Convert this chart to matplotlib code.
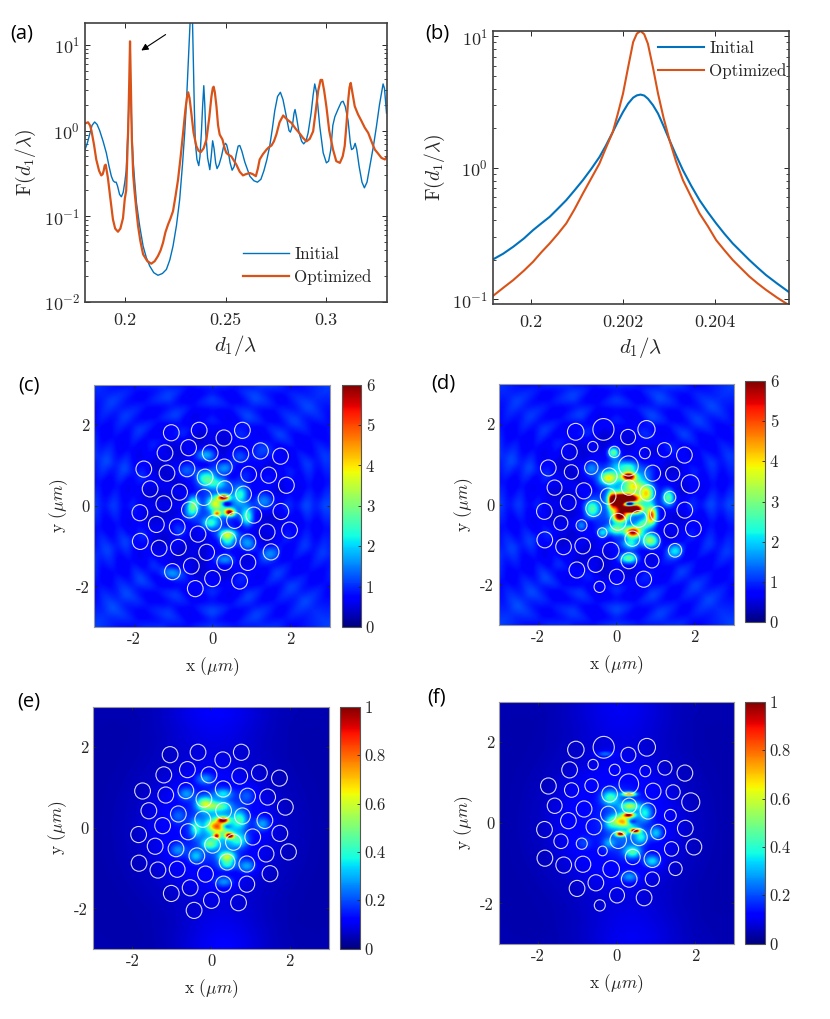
import numpy as np
import matplotlib
matplotlib.use('Agg')
import matplotlib.pyplot as plt
from matplotlib.patches import Circle

# Curve (a)
a_init_x = [.1800,.1812,.1823,.1835,.1848,.1860,.1873,.1890,.1906,.1920,.1931,.1940,.1948,.1955,.1962,.1972,.1981,.1990,.1998,.2005,.2015,.2020,.2024,.2028,.2033,.2040,.2047,.2056,.2072,.2089,.2105,.2122,.2142,.2163,.2185,.2205,.2222,.2238,.2255,.2271,.2285,.2296,.2305,.2313,.2322,.2327,.2333,.2338,.2344,.2349,.2357,.2366,.2372,.2379,.2385,.2391,.2396,.2401,.2410,.2421,.2428,.2435,.2442,.2450,.2457,.2467,.2479,.2490,.2499,.2505,.2512,.2522,.2532,.2542,.2552,.2562,.2570,.2580,.2595,.2620,.2640,.2658,.2675,.2690,.2705,.2719,.2732,.2744,.2758,.2772,.2785,.2802,.2815,.2822,.2832,.2840,.2845,.2852,.2865,.2878,.2888,.2900,.2910,.2925,.2935,.2943,.2952,.2968,.2985,.3001,.3012,.3023,.3033,.3043,.3060,.3075,.3084,.3095,.3109,.3120,.3126,.3135,.3144,.3152,.3164,.3178,.3190,.3203,.3217,.3235,.3250,.3265,.3283,.3290,.3300]
a_init_y = [.60,.72,.90,1.15,1.26,1.18,1.0,.75,.55,.38,.294,.26,.25,.25,.225,.18,.169,.19,.25,.34,1.2,2.66,3.6,2.6,.96,.43,.26,.144,.077,.045,.033,.0263,.022,.0205,.0215,.024,.031,.045,.078,.157,.40,.94,2.2,5.6,16,30,30,8,1.8,.72,.46,.39,.5,.94,1.9,3.34,2.0,.94,.48,.35,.5,.76,.62,.42,.36,.40,.50,.66,.71,.68,.58,.42,.345,.38,.52,.66,.67,.58,.43,.294,.26,.25,.27,.34,.46,.66,1.05,1.7,2.5,2.8,2.3,1.45,1.0,.96,1.15,1.6,1.76,1.45,.94,.75,.70,.76,.94,1.6,2.6,3.5,2.8,1.12,.55,.42,.44,.60,1.15,1.45,1.8,2.15,2.2,1.9,1.3,.72,.60,.62,.71,.6,.38,.25,.215,.25,.38,.66,1.12,2.0,3.5,3.1,1.6]
a_opt_x = [.1800,.1815,.1825,.1832,.1845,.1856,.1870,.1881,.1888,.1893,.1898,.1903,.1908,.1914,.1925,.1939,.1950,.1964,.1976,.1989,.1998,.2005,.2015,.2020,.2024,.2028,.2033,.2040,.2047,.2056,.2064,.2075,.2089,.2110,.2130,.2147,.2163,.2176,.2188,.2200,.2213,.2225,.2238,.2250,.2263,.2276,.2288,.2300,.2308,.2313,.2320,.2329,.2340,.2354,.2365,.2376,.2390,.2404,.2418,.2429,.2436,.2440,.2446,.2454,.2462,.2470,.2484,.2495,.2503,.2515,.2528,.2540,.2553,.2570,.2586,.2600,.2620,.2635,.2650,.2660,.2669,.2685,.2703,.2715,.2728,.2740,.2752,.2768,.2786,.2805,.2827,.2848,.2869,.2885,.2902,.2918,.2935,.2948,.2960,.2972,.2980,.2990,.3001,.3015,.3034,.3050,.3068,.3082,.3092,.3101,.3109,.3116,.3122,.3130,.3142,.3158,.3175,.3192,.3209,.3225,.3242,.3258,.3275,.3292,.3300]
a_opt_y = [1.21,1.25,1.15,1.0,.68,.46,.34,.30,.31,.34,.39,.40,.34,.28,.17,.092,.072,.066,.072,.095,.16,.20,1.08,3.67,11,3.67,.806,.30,.19,.115,.077,.052,.036,.030,.028,.030,.0344,.040,.049,.065,.080,.094,.115,.17,.269,.50,.94,1.8,2.5,2.8,2.4,1.6,.95,.66,.58,.56,.62,.785,1.4,2.5,3.15,3.25,2.8,1.92,1.15,.90,.785,.62,.55,.52,.50,.45,.40,.33,.30,.31,.32,.31,.294,.36,.46,.53,.60,.64,.67,.75,.90,1.25,1.5,1.35,1.23,1.05,.92,.82,.75,.80,.98,1.7,2.9,3.9,3.9,2.9,1.9,1.0,.60,.44,.42,.50,.66,1.2,2.2,3.2,3.6,2.8,1.92,1.55,1.3,1.08,.94,.75,.60,.54,.48,.46,.49]

# Curve (b)
b_x = [.19918,.1994,.19962,.19985,.20005,.20023,.20041,.20059,.20077,.20095,.20113,.20131,.20149,.20163,.20178,.20189,.20200,.20211,.20222,.2023,.20238,.20246,.20254,.20265,.20276,.20288,.20301,.20315,.20330,.20348,.20366,.20384,.20402,.2042,.20438,.20456,.20474,.20492,.20510,.20534,.20559]
b_init_y = [.201,.222,.251,.29,.336,.378,.424,.49,.568,.675,.806,.98,1.21,1.48,1.88,2.25,2.66,3.08,3.42,3.56,3.61,3.55,3.36,3.0,2.59,2.08,1.62,1.25,.96,.73,.568,.46,.378,.315,.266,.23,.199,.174,.153,.132,.114]
b_opt_y = [.106,.122,.140,.165,.193,.228,.266,.315,.378,.485,.638,.83,1.08,1.42,1.88,2.6,3.67,5.8,9.06,10.5,11,10.4,8.8,5.8,3.67,2.4,1.62,1.12,.806,.60,.45,.36,.282,.236,.199,.172,.149,.132,.118,.103,.0906]

# Hole centres in um, same for all four maps
hole_x = [-1.04,-.33,.77,.30,-.60,-1.20,-.05,.73,1.23,1.74,-1.74,-1.15,-.64,.31,-.18,.93,1.44,1.89,-1.58,-.83,.32,.80,1.37,-.21,-1.23,-.58,-1.84,1.75,1.06,.57,.04,-1.42,-.89,1.97,1.40,-.36,-1.83,.41,.91,-1.35,-.86,-.14,1.50,.32,.91,-.53,-1.01,.01,.70,-.43]
hole_y = [1.81,1.87,1.87,1.68,1.44,1.31,1.31,1.28,1.36,1.23,.91,.81,.92,.96,.71,.78,.76,.51,.42,.34,.42,.29,.18,.21,.05,-.10,-.17,-.14,-.23,-.36,-.43,-.46,-.52,-.60,-.65,-.70,-.88,-.85,-.90,-1.05,-1.03,-1.15,-1.14,-1.40,-1.40,-1.49,-1.63,-1.80,-1.86,-2.05]
hole_r_init = [.20] * 50
hole_r_opt = [.21,.27,.22,.19,.13,.20,.14,.14,.18,.20,.20,.18,.17,.25,.20,.20,.18,.23,.19,.20,.19,.20,.15,.20,.20,.20,.20,.20,.19,.21,.21,.18,.14,.20,.18,.12,.20,.19,.21,.20,.20,.21,.17,.20,.18,.20,.20,.19,.20,.14]

# Bright spots of the maps: x, y, level, width in x, width in y
spots_c = [(.30,.20,5.0,.10,.05),(.45,-.17,5.0,.09,.06),(.13,-.20,3.2,.07,.05),(.08,.05,2.2,.13,.12),(.30,-.01,.8,.12,.08),
           (.2,.0,.6,.35,.40),(-.15,.68,1.9,.17,.14),(.15,.55,1.2,.20,.10),(.40,-.72,2.9,.15,.09),(.40,-.92,1.3,.14,.10),
           (.90,-.27,1.9,.11,.17),(-.47,.02,1.9,.10,.14),(-.05,-.43,1.5,.15,.10),(.72,.27,1.6,.13,.17),(-.17,1.25,1.3,.17,.11),
           (.32,-1.34,1.1,.17,.10),(.90,-.93,1.1,.16,.14),(1.49,-1.18,.8,.17,.13),(1.32,.12,1.0,.17,.15),(-.64,.88,.8,.15,.13),
           (-.55,-.15,1.0,.13,.15),(-1.02,-1.67,.9,.17,.11),(.30,.93,1.0,.17,.11),(.73,1.2,.7,.15,.13),(-.85,-.6,.6,.14,.13),
           (.9,.7,.4,.16,.16),(1.4,.7,.3,.16,.16),(1.2,1.3,.4,.16,.16),(.5,-.1,.3,.3,.2),(.36,.03,-1.8,.09,.05)]
spots_d = [(.26,.14,8,.20,.08),(.39,-.11,8,.18,.07),(.09,-.30,5,.12,.09),(.05,.06,4,.11,.15),(.31,.70,5.5,.13,.07),
           (.43,-.69,5,.13,.09),(.90,-.27,4.2,.09,.15),(-.12,.10,3.5,.07,.16),(-.20,.66,3.0,.16,.11),(-.08,1.30,2.2,.10,.09),
           (.31,-1.34,2.3,.15,.09),(.86,-.90,2.6,.15,.12),(1.33,.18,2.2,.11,.14),(-.63,-.11,2.0,.13,.15),(.78,.27,2.8,.12,.15),
           (-.37,-.71,1.2,.09,.08),(-.90,-.53,1.0,.09,.09),(1.50,-1.15,1.4,.14,.12),(.44,.45,2.6,.18,.12),(.0,-.62,1.9,.17,.09),
           (.31,.92,1.4,.16,.10),(-.64,.9,1.0,.13,.13),(.70,-.5,1.8,.12,.10),(.25,0,.9,.5,.6),(.0,.95,.9,.20,.15),(.7,.75,.6,.2,.2),(.35,-.98,1.5,.15,.1),
           (.33,.02,-6,.09,.045)]
spots_e = [(.30,.20,.72,.10,.05),(.46,-.19,.8,.08,.05),(.13,-.20,.6,.06,.05),(.11,.05,.42,.15,.10),(.30,.0,.2,.13,.08),
           (.2,0,.2,.35,.45),(-.17,.60,.38,.15,.12),(.18,.55,.25,.2,.08),(.40,-.72,.42,.14,.09),(.70,-.30,.22,.16,.13),(-.40,.0,.22,.10,.15),
           (-.05,-.40,.25,.13,.09),(.72,.20,.25,.13,.15),(-.17,1.22,.16,.16,.10),(.40,-.92,.22,.14,.08),(.32,-1.34,.16,.16,.09),
           (.90,-.95,.18,.15,.11),(1.30,.10,.18,.14,.12),(-.64,.85,.16,.14,.11),(-.4,-.7,.18,.12,.11),(.30,.85,.2,.16,.09),
           (-.85,-.55,.15,.14,.11),(-.85,.3,.1,.13,.13),(.9,.8,.1,.14,.14),(.1,3.0,.07,.9,.7),(.3,-3.0,.07,.8,.7),(.36,.03,-.3,.09,.05)]
spots_f = [(.30,.20,.72,.10,.04),(.46,-.19,.9,.09,.04),(.09,-.27,.85,.08,.04),(.11,.05,.4,.15,.10),(.30,.0,.2,.13,.07),
           (.2,0,.13,.3,.45),(.31,.72,.7,.11,.035),(-.17,.63,.28,.15,.12),(.34,.42,.36,.15,.07),(.40,-.72,.3,.14,.10),(.62,-.35,.22,.11,.11),
           (.72,.25,.22,.12,.14),(.90,-.95,.24,.14,.10),(.32,-1.34,.17,.15,.09),(1.0,-.25,.2,.11,.11),(-.17,.0,.16,.11,.11),
           (-.3,1.72,.14,.15,.05),(-.85,-.5,.07,.13,.11),(-.2,-.5,.14,.11,.09),(.1,2.9,.06,.9,.7),(.4,-2.9,.06,.9,.7),(.36,.03,-.3,.09,.05)]

# Background level against distance from the centre
ripple_r = [0,.8,1.4,1.8,2.0,2.25,2.5,2.75,3.0,3.25,3.5,3.75,4.3]
ripple_cd = [.8,.55,.5,.55,.85,.65,1.0,.72,1.0,.78,1.02,.82,.95]
glow_r = [0,.8,1.4,2.0,2.6,3.2,4.3]
glow_ef = [.16,.13,.10,.06,.045,.04,.045]
# lumps of the ripples around the circle, and how much the rings wander
lump_levels = [1.15,.85,1.2,.8,1.25,.85,1.15,.8,1.25,.85,1.2,.85,1.2,.8,1.15,.85,1.25,.85,1.15,.8,1.2,.85,1.25,.85,1.15,.8,1.2,.85,1.15,.8,1.25,.85,1.15]
ring_wander = [0,.12,-.08,.1,-.12,.06,.14,-.06,.1,-.14,.04,.12,-.1,.08,-.12,.1,0]

COLOR_INIT = '#0072BD'
COLOR_OPT = '#D95319'
TEXT = '#262626'

plt.rcParams['font.family'] = 'cmr10'
plt.rcParams['mathtext.fontset'] = 'cm'
plt.rcParams['axes.formatter.use_mathtext'] = True
plt.rcParams['axes.unicode_minus'] = False
plt.rcParams['text.color'] = TEXT
plt.rcParams['axes.labelcolor'] = TEXT
plt.rcParams['xtick.color'] = TEXT
plt.rcParams['ytick.color'] = TEXT
plt.rcParams['xtick.direction'] = 'in'
plt.rcParams['ytick.direction'] = 'in'

W, H = 830, 1019
fig = plt.figure(figsize=(W / 100, H / 100), dpi=100)


def px_axes(left, right, top, bottom):
    return fig.add_axes([left / W, 1 - bottom / H, (right - left) / W, (bottom - top) / H])


def line_panel(ax, x_lim, y_lim, xticks, xticklabels):
    ax.set_yscale('log')
    ax.set_xlim(x_lim)
    ax.set_ylim(y_lim)
    ax.set_xticks(xticks)
    ax.set_xticklabels(xticklabels)
    ax.tick_params(which='both', top=True, right=True, labelsize=13)
    ax.tick_params(axis='x', pad=8)
    ax.tick_params(which='major', length=3.5, width=.7)
    ax.tick_params(which='minor', length=2, width=.6)
    ax.set_xlabel(r'$d_1/\lambda$', fontsize=15, labelpad=3)
    ax.set_ylabel(r'F$(d_1/\lambda)$', fontsize=14)
    for s in ax.spines.values():
        s.set_color('#404040')
        s.set_linewidth(1.2)


# (a)
ax_a = px_axes(85, 386.5, 23, 302)
ax_a.plot(a_init_x, a_init_y, color=COLOR_INIT, lw=1.0, label='Initial')
ax_a.plot(a_opt_x, a_opt_y, color=COLOR_OPT, lw=1.6, label='Optimized')
line_panel(ax_a, (.18, .33), (.01, 18), [.2, .25, .3], ['0.2', '0.25', '0.3'])
ax_a.legend(loc='lower left', bbox_to_anchor=(.525, .06), frameon=False, fontsize=12.2,
            handlelength=2.7, handletextpad=.3, labelspacing=.42, borderaxespad=0, borderpad=0)
ax_a.annotate('', xy=(.179, .896), xytext=(.275, .964), xycoords='axes fraction', textcoords='axes fraction',
              arrowprops=dict(arrowstyle='-|>', color='black', lw=.8, mutation_scale=10))

# (b)
ax_b = px_axes(493, 788.5, 31, 304)
ax_b.plot(b_x, b_init_y, color=COLOR_INIT, lw=1.5, label='Initial')
ax_b.plot(b_x, b_opt_y, color=COLOR_OPT, lw=1.5, label='Optimized')
line_panel(ax_b, (.19918, .20559), (.092, 11), [.2, .202, .204], ['0.2', '0.202', '0.204'])
ax_b.legend(loc='upper left', bbox_to_anchor=(.56, .963), frameon=False, fontsize=12.2,
            handlelength=2.7, handletextpad=.3, labelspacing=.42, borderaxespad=0, borderpad=0)

# maps
grid = np.linspace(-3, 3, 301)
gx, gy = np.meshgrid(grid, grid)
gr = np.hypot(gx, gy)
gt = np.arctan2(gy, gx)
lump_t = np.linspace(-np.pi, np.pi, len(lump_levels))
wander_t = np.linspace(-np.pi, np.pi, len(ring_wander))


def soften(field, n=9):
    box = np.ones(n) / n
    pad = np.pad(field, n, mode='edge')
    pad = np.apply_along_axis(np.convolve, 0, pad, box, mode='same')
    pad = np.apply_along_axis(np.convolve, 1, pad, box, mode='same')
    return pad[n:-n, n:-n]


def build_field(spots, level_r, level_v, use_lumps):
    if use_lumps:
        field = np.interp(gr + np.interp(gt, wander_t, ring_wander), level_r, level_v)
        field = soften(field * np.interp(gt, lump_t, lump_levels))
    else:
        field = np.interp(gr, level_r, level_v)
    for sx, sy, lev, wx, wy in spots:
        field = field + lev * np.exp(-((gx - sx) / wx) ** 2 / 2 - ((gy - sy) / wy) ** 2 / 2)
    return field


def map_panel(box, cbar_box, field, vmax, radii, cticks):
    ax = px_axes(*box)
    im = ax.imshow(field, extent=(-3, 3, -3, 3), origin='lower', cmap='jet', vmin=0, vmax=vmax,
                   interpolation='bilinear', aspect='auto')
    for hx, hy, hr in zip(hole_x, hole_y, radii):
        ax.add_patch(Circle((hx, hy), hr, fill=False, edgecolor='white', lw=.8, alpha=.85))
    ax.set_xlim(-3, 3)
    ax.set_ylim(-3, 3)
    ax.set_xticks([-2, 0, 2])
    ax.set_yticks([-2, 0, 2])
    ax.set_xticklabels(['-2', '0', '2'])
    ax.set_yticklabels(['-2', '0', '2'])
    ax.tick_params(top=True, right=True, length=2.5, width=.6, labelsize=12)
    ax.set_xlabel(r'x ($\mu m$)', fontsize=12.5, labelpad=6)
    ax.set_ylabel(r'y ($\mu m$)', fontsize=12.5)
    for s in ax.spines.values():
        s.set_color('#999999')
    cax = px_axes(*cbar_box)
    cb = fig.colorbar(im, cax=cax)
    cb.set_ticks(cticks)
    cb.set_ticklabels([('%g' % t) for t in cticks])
    cb.ax.tick_params(labelsize=12, length=2.5, width=.6, direction='in')
    cb.outline.set_edgecolor('#555555')
    return ax


map_panel((94.3, 330, 384.7, 627), (342, 361, 384.7, 627), build_field(spots_c, ripple_r, ripple_cd, True), 6,
          hole_r_init, [0, 1, 2, 3, 4, 5, 6])
map_panel((499, 733.7, 384, 625), (745, 765, 381, 622), build_field(spots_d, ripple_r, ripple_cd, True), 6,
          hole_r_opt, [0, 1, 2, 3, 4, 5, 6])
map_panel((93, 329, 706.7, 948.7), (340, 360, 706.7, 948.7), build_field(spots_e, glow_r, glow_ef, False), 1,
          hole_r_init, [0, .2, .4, .6, .8, 1])
map_panel((499, 734.3, 701.7, 943.7), (745, 765, 701.7, 943.7), build_field(spots_f, glow_r, glow_ef, False), 1,
          hole_r_opt, [0, .2, .4, .6, .8, 1])

# panel letters
panel_labels = ['(a)', '(b)', '(c)', '(d)', '(e)', '(f)']
label_x = [10, 425, 18, 431, 17, 427]
label_y = [33, 33, 385, 383, 702, 697]
for lab, lx, ly in zip(panel_labels, label_x, label_y):
    fig.text(lx / W, 1 - ly / H, lab, family='Open Sans', fontsize=14.5, color='black', va='center')

fig.savefig('out.png', dpi=100)
